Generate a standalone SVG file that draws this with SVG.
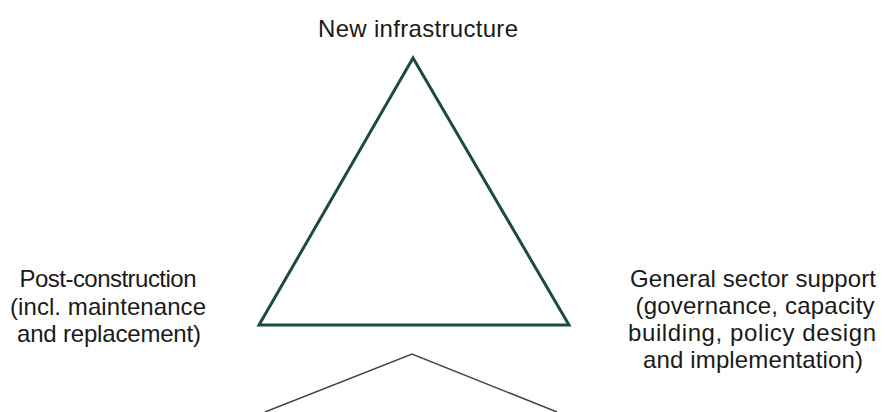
<svg xmlns="http://www.w3.org/2000/svg" width="885" height="412" viewBox="0 0 885 412">
<style>
text{font-family:"Liberation Sans",Arial,sans-serif;font-size:24px;fill:#1a1a1a;text-anchor:middle}
.tri{fill:none;stroke:#1d4a45;stroke-width:3;stroke-linejoin:miter}
.chev{fill:none;stroke:#444;stroke-width:1.5}
</style>
<rect width="885" height="412" fill="#fff"/>
<g id="connectors">
<polygon class="tri" points="413,58 259,325 569,325"/>
<polyline class="chev" points="265,412 412,354 557,412"/>
</g>
<g id="node-new">
<text x="418" y="37" textLength="200">New infrastructure</text>
</g>
<g id="node-post">
<text x="108" y="287" textLength="177">Post-construction</text>
<text x="108" y="315" textLength="196">(incl. maintenance</text>
<text x="109" y="342" textLength="184">and replacement)</text>
</g>
<g id="node-general">
<text x="753" y="287" textLength="246">General sector support</text>
<text x="755" y="314" textLength="239">(governance, capacity</text>
<text x="752" y="341" textLength="248">building, policy design</text>
<text x="753" y="368" textLength="220">and implementation)</text>
</g>
</svg>
